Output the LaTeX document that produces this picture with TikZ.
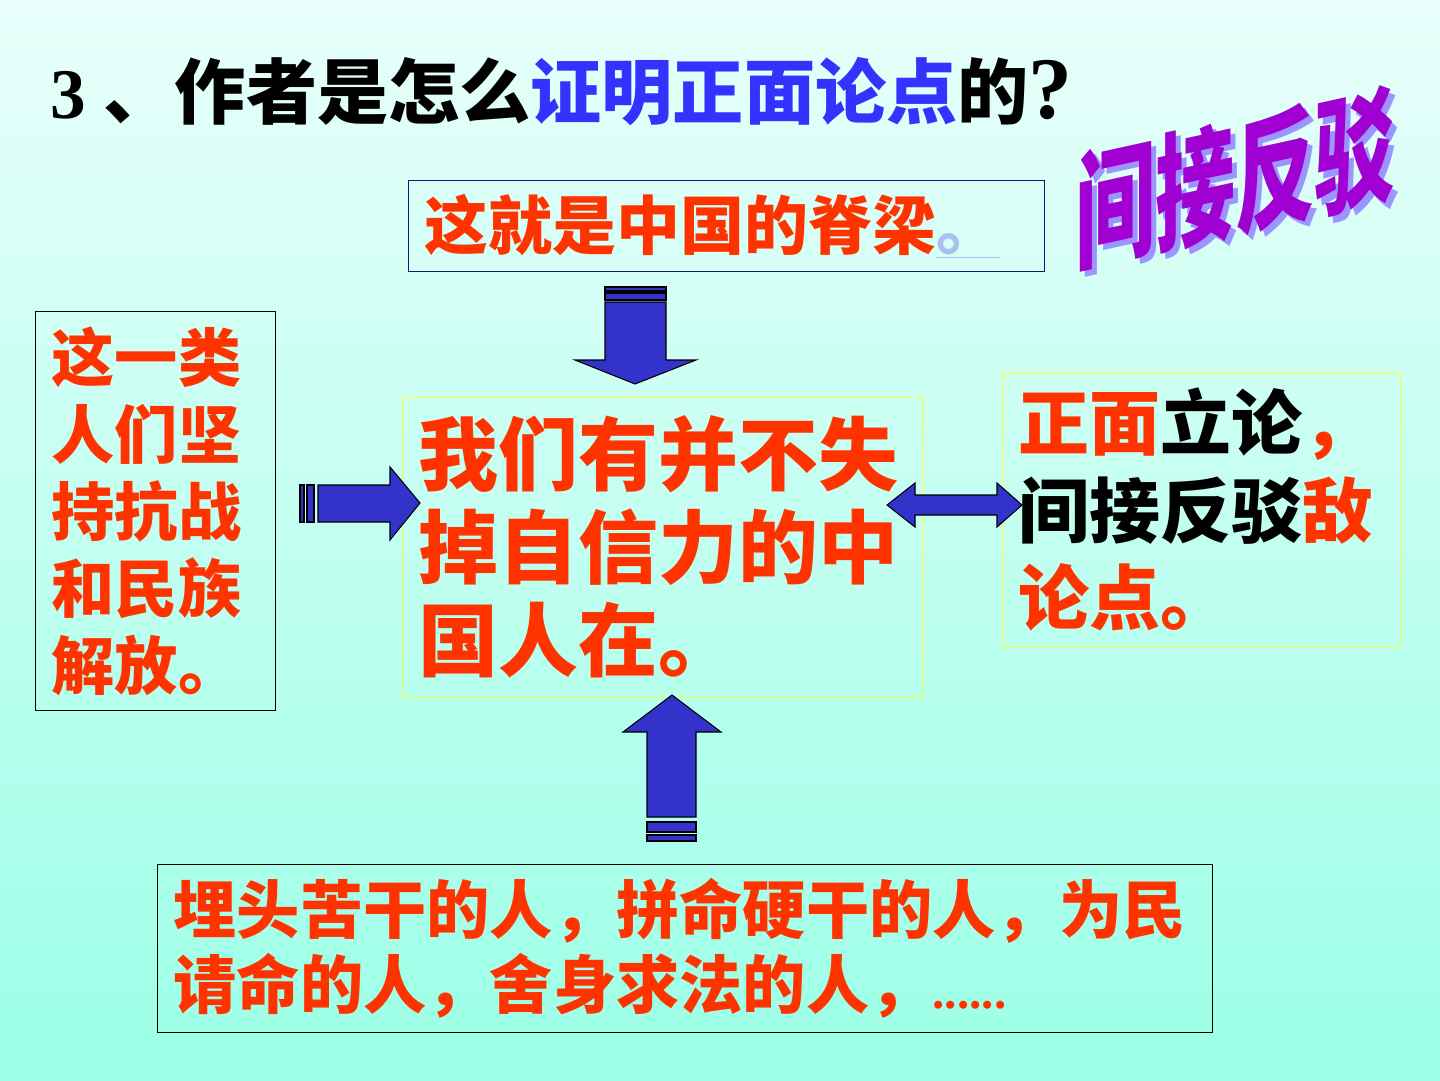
\documentclass[tikz,border=0pt]{standalone}
\usepackage{fontspec}
\setmainfont{Liberation Serif}
\newfontfamily\cjk{Noto Sans CJK SC}
\begin{document}
\begin{tikzpicture}[x=0.02cm, y=-0.02cm,
		box/.style={anchor=north west, inner xsep=0.32cm, inner ysep=0pt, align=left, line width=0.7pt},
		blkarrow/.style={fill=arrowblue, draw=black, line width=0.6pt, line join=miter}]
	\definecolor{bgtop}{RGB}{232,255,250}
	\definecolor{bgbot}{RGB}{155,255,230}
	\definecolor{myred}{RGB}{255,51,0}
	\definecolor{titleblue}{RGB}{51,51,255}
	\definecolor{navy}{RGB}{20,20,120}
	\definecolor{boxyellow}{RGB}{255,255,60}
	\definecolor{arrowblue}{RGB}{51,51,204}
	\definecolor{linkblue}{RGB}{170,190,240}
	\definecolor{wordpurple}{RGB}{160,0,210}
	\definecolor{wordshadow}{RGB}{155,150,255}
	\useasboundingbox (0,0) rectangle (1440,1080);
	\shade[top color=bgtop, bottom color=bgbot] (0,0) rectangle (1440,1080);
	% title
	\node[anchor=base west, inner sep=0] (title) at (50,118) {\fontsize{40.5}{48}\selectfont\bfseries 3 {\cjk 、作者是怎么\textcolor{titleblue}{证明正面论点}的}\fontsize{50}{50}\selectfont ?};
	% word art
	\begin{scope}[shift={(1235,178)}, yslant=0.22, yscale=1.6]
		\node[transform shape, text=wordshadow, font=\cjk\bfseries\fontsize{45.5}{50}\selectfont] (artshadow) at (5,4) {间接反驳};
		\node[transform shape, text=wordpurple, font=\cjk\bfseries\fontsize{45.5}{50}\selectfont] (art) at (0,0) {间接反驳};
	\end{scope}
	% boxes
	\node[box, draw=navy, text=myred, text width=12.08cm, minimum height=1.82cm, font=\cjk\bfseries\fontsize{36.4}{42}\selectfont] (spine) at (408,180) {这就是中国的脊梁\textcolor{linkblue}{\underline{。}}};
	\node[box, draw=boxyellow, text=myred, text width=9.78cm, minimum height=6.02cm, font=\cjk\bfseries\fontsize{45.5}{52.9}\selectfont] (people) at (402,396) {我们有并不失\\掉自信力的中\\国人在。};
	\node[box, draw=black, text=myred, text width=4.16cm, minimum height=7.98cm, font=\cjk\bfseries\fontsize{36}{43.8}\selectfont] (fighters) at (35,311) {这一类\\人们坚\\持抗战\\和民族\\解放。};
	\node[box, draw=boxyellow, text=black, text width=7.32cm, minimum height=5.48cm, font=\cjk\bfseries\fontsize{40.4}{50}\selectfont] (method) at (1002,372) {\textcolor{myred}{正面}立论\textcolor{myred}{，}\\间接反驳\textcolor{myred}{敌}\\\textcolor{myred}{论点。}};
	\node[box, draw=black, text=myred, text width=20.46cm, minimum height=3.36cm, font=\cjk\bfseries\fontsize{36}{42.7}\selectfont] (workers) at (157,864) {埋头苦干的人，拼命硬干的人，为民\\请命的人，舍身求法的人，{\rmfamily\fontsize{28}{42.7}\selectfont ......}};
	% block arrows
	\draw[blkarrow] (605,287) rectangle (666,291) (605,293) rectangle (666,300);
	\draw[blkarrow] (605,302) -- (666,302) -- (666,360) -- (696,360) -- (635,384) -- (575,360) -- (605,360) -- cycle;
	\draw[blkarrow] (300,485) rectangle (304,522) (307,485) rectangle (314,522);
	\draw[blkarrow] (318,485) -- (390,485) -- (390,467) -- (420,503) -- (390,540) -- (390,522) -- (318,522) -- cycle;
	\draw[blkarrow] (647,835) rectangle (696,841) (647,822) rectangle (696,832);
	\draw[blkarrow] (647,817) -- (647,732) -- (623,732) -- (672,695) -- (721,732) -- (696,732) -- (696,817) -- cycle;
	\draw[blkarrow] (887,505) -- (915,483) -- (915,495) -- (997,495) -- (997,483) -- (1022,505) -- (997,527) -- (997,515) -- (915,515) -- (915,527) -- cycle;
\end{tikzpicture}
\end{document}
